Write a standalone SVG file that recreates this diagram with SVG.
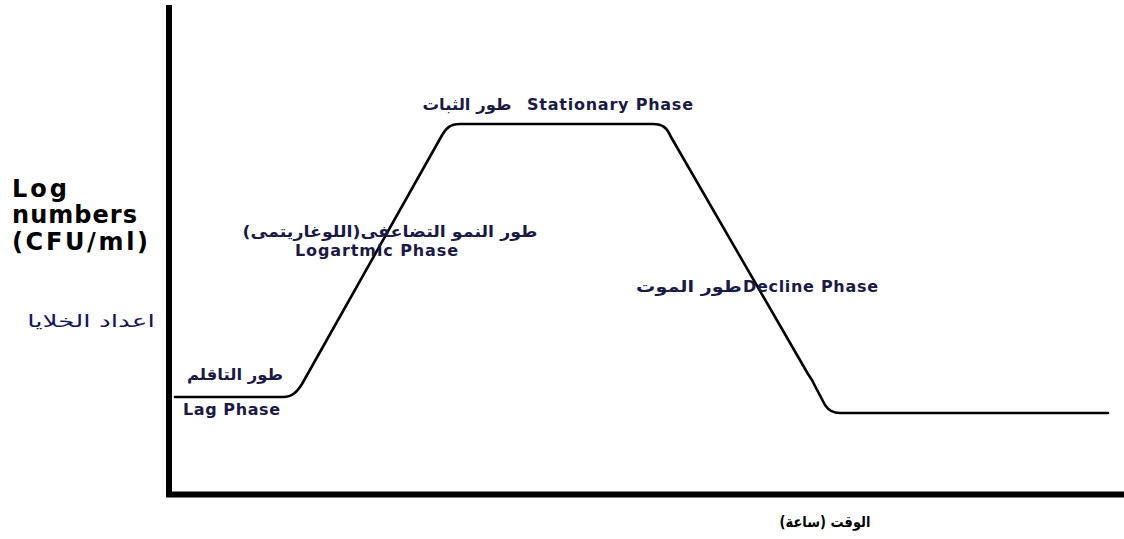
<svg xmlns="http://www.w3.org/2000/svg" width="1124" height="539" viewBox="0 0 1124 539">
<style>
.ax{fill:none;stroke:#000;stroke-width:6}
.curve{fill:none;stroke:#000;stroke-width:2.6;stroke-linejoin:round;stroke-linecap:round}
.yl{font-family:"DejaVu Sans",Verdana,sans-serif;font-weight:bold;font-size:24px;fill:#000}
.lat{font-family:"DejaVu Sans",Verdana,sans-serif;font-weight:bold;font-size:16px;fill:#1b1a45}
.ar{font-family:"DejaVu Sans","Noto Sans",sans-serif;font-weight:bold;font-size:16px;fill:#1b1a45;direction:rtl;unicode-bidi:embed}
</style>
<rect width="1124" height="539" fill="#fff"/>
<g id="axes">
<path class="ax" d="M169,5 L169,494.5"/>
<path class="ax" d="M166,494.5 L1124,494.5" stroke-width="5"/>
</g>
<g id="connectors">
<path class="curve" d="M175,397 L283,397 C292,397 297,392 302,384 L441,137 C446,128 450,124 460,124 L653,124 C663,124 667,128 671,137 L808,374 L812,380 L815,386 L825,405 C829,411 833,413 840,413 L1108,413"/>
</g>
<g id="y-label">
<text class="yl" x="12" y="197" textLength="55" lengthAdjust="spacing">Log</text>
<text class="yl" x="12" y="223" textLength="125" lengthAdjust="spacing">numbers</text>
<text class="yl" x="12" y="250" textLength="136" lengthAdjust="spacing">(CFU/ml)</text>
<text class="ar" transform="translate(91,327) scale(1.55,1)" text-anchor="middle" style="font-size:17px;font-weight:normal;fill:#15155e">اعداد الخلايا</text>
</g>
<g id="lag">
<text class="ar" transform="translate(235,380) scale(1.03,1)" text-anchor="middle">طور التاقلم</text>
<text class="lat" x="183" y="415" textLength="97" lengthAdjust="spacing">Lag Phase</text>
</g>
<g id="log">
<text class="ar" transform="translate(390,237) scale(1.09,1)" text-anchor="middle">طور النمو التضاعفى(اللوغاريتمى)</text>
<text class="lat" x="295" y="256" textLength="163" lengthAdjust="spacing">Logartmic Phase</text>
</g>
<g id="stationary">
<text class="ar" transform="translate(467,110) scale(1.03,1)" text-anchor="middle">طور الثبات</text>
<text class="lat" x="527" y="110" textLength="166" lengthAdjust="spacing">Stationary Phase</text>
</g>
<g id="decline">
<text class="ar" transform="translate(689,292) scale(1.2,1)" text-anchor="middle">طور الموت</text>
<text class="lat" x="743" y="292" textLength="135" lengthAdjust="spacing">Decline Phase</text>
</g>
<g id="x-label">
<text class="ar" transform="translate(825,527) scale(0.87,1)" text-anchor="middle" style="font-size:15px;fill:#000">الوقت (ساعة)</text>
</g>
</svg>
